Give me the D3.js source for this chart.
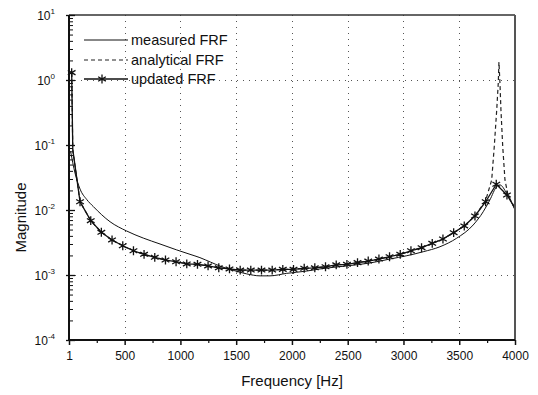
<!DOCTYPE html>
<html><head><meta charset="utf-8">
<script src="https://cdn.jsdelivr.net/npm/d3@7"></script>
<style>
html,body{margin:0;padding:0;background:#fff;}
svg{display:block;}
text{font-family:"Liberation Sans",Arial,sans-serif;fill:#111;}
</style></head>
<body>
<svg id="chart" width="538" height="395"></svg>
<script>
// ---- data ----
const xTickValues = [1, 500, 1000, 1500, 2000, 2500, 3000, 3500, 4000];
const xMinorTicks = [250, 750, 1250, 1750, 2250, 2750, 3250, 3750];
const yTickExponents = [1, 0, -1, -2, -3, -4];
const yGridValues = [1, 0.001];
const xGridValues = [500, 1000, 1500, 2000, 2500, 3000, 3500];

const measuredFreq = [15, 55, 100, 160, 219, 369, 518, 667, 817, 967, 1086, 1175, 1270, 1355, 1474, 1595, 1714, 1803, 1953, 2132, 2251, 2490, 2699, 2878, 3030, 3177, 3327, 3476, 3625, 3715, 3775, 3835, 3865, 3925, 4000];
const measuredMag = [0.08, 0.037, 0.021, 0.0145, 0.0113, 0.0066, 0.00475, 0.0037, 0.0030, 0.00243, 0.00208, 0.00185, 0.00158, 0.00137, 0.00118, 0.00104, 0.00097, 0.00097, 0.00106, 0.00115, 0.00124, 0.00138, 0.00153, 0.00176, 0.00198, 0.00228, 0.00272, 0.00367, 0.00588, 0.0094, 0.0143, 0.0228, 0.0243, 0.0181, 0.0100];

const updatedFreq = [25, 35, 100, 196, 291, 387, 483, 579, 674, 770, 866, 961, 1057, 1153, 1248, 1344, 1440, 1536, 1631, 1727, 1823, 1918, 2014, 2110, 2205, 2301, 2397, 2493, 2588, 2684, 2780, 2875, 2971, 3067, 3162, 3258, 3354, 3450, 3545, 3641, 3737, 3832, 3928, 4000];
const updatedMag = [1.3, 0.085, 0.0134, 0.00685, 0.00454, 0.00346, 0.00282, 0.00236, 0.00208, 0.00187, 0.00170, 0.00160, 0.00148, 0.00146, 0.00138, 0.00129, 0.00124, 0.00119, 0.00119, 0.00119, 0.00119, 0.00122, 0.00122, 0.00127, 0.00129, 0.00134, 0.00143, 0.00146, 0.00155, 0.00164, 0.00176, 0.00191, 0.00208, 0.00236, 0.00263, 0.00307, 0.00358, 0.00448, 0.00568, 0.00809, 0.0134, 0.0249, 0.0170, 0.0107];
const updatedMarked = [true, false, true, true, true, true, true, true, true, true, true, true, true, true, true, true, true, true, true, true, true, true, true, true, true, true, true, true, true, true, true, true, true, true, true, true, true, true, true, true, true, true, true, false];

const analyticalFreq = [25, 35, 100, 196, 291, 387, 483, 579, 674, 770, 866, 961, 1057, 1153, 1248, 1344, 1440, 1536, 1631, 1727, 1823, 1918, 2014, 2110, 2205, 2301, 2397, 2493, 2588, 2684, 2780, 2875, 2971, 3067, 3162, 3258, 3354, 3450, 3545, 3641, 3737, 3791, 3814, 3836, 3850, 3856, 3865, 3874, 3890, 3910, 3937, 4000];
const analyticalMag = [1.3, 0.085, 0.0134, 0.00685, 0.00454, 0.00346, 0.00282, 0.00236, 0.00208, 0.00187, 0.00170, 0.00160, 0.00148, 0.00146, 0.00138, 0.00129, 0.00124, 0.00119, 0.00119, 0.00119, 0.00119, 0.00122, 0.00122, 0.00127, 0.00129, 0.00134, 0.00143, 0.00146, 0.00155, 0.00164, 0.00176, 0.00191, 0.00208, 0.00236, 0.00263, 0.00307, 0.00358, 0.00448, 0.00568, 0.00809, 0.0140, 0.029, 0.094, 0.345, 0.90, 1.89, 0.90, 0.345, 0.094, 0.029, 0.017, 0.0105];

const legendLabels = ["measured FRF", "analytical FRF", "updated FRF"];
const xTitle = "Frequency [Hz]";
const yTitle = "Magnitude";

// ---- layout ----
const L = 69, R = 515, T = 15, B = 340;
const svg = d3.select("#chart");
svg.append("rect").attr("width", 538).attr("height", 395).attr("fill", "#fff");

const x = d3.scaleLinear().domain([1, 4000]).range([L, R]);
const y = d3.scaleLog().domain([1e-4, 10]).range([B, T]);

// grid
const grid = svg.append("g").attr("stroke", "#555").attr("stroke-width", 1).attr("stroke-dasharray", "1,5");
grid.selectAll("line.gx").data(xGridValues).join("line")
  .attr("x1", d => Math.round(x(d)) + 0.5).attr("x2", d => Math.round(x(d)) + 0.5)
  .attr("y1", T).attr("y2", B);
grid.selectAll("line.gy").data(yGridValues).join("line")
  .attr("y1", d => Math.round(y(d)) + 0.5).attr("y2", d => Math.round(y(d)) + 0.5)
  .attr("x1", L).attr("x2", R);

// series
const zip = (fs, ms) => fs.map((f, i) => [f, ms[i]]);
svg.append("clipPath").attr("id", "clip").append("rect")
  .attr("x", L).attr("y", T).attr("width", R - L).attr("height", B - T);
const plot = svg.append("g").attr("clip-path", "url(#clip)");

plot.append("path").datum(zip(measuredFreq, measuredMag))
  .attr("d", d3.line().x(d => x(d[0])).y(d => y(d[1])).curve(d3.curveMonotoneX))
  .attr("fill", "none").attr("stroke", "#111").attr("stroke-width", 1);
plot.append("path").datum(zip(analyticalFreq, analyticalMag))
  .attr("d", d3.line().x(d => x(d[0])).y(d => y(d[1]))).attr("fill", "none").attr("stroke", "#222")
  .attr("stroke-width", 1.2).attr("stroke-dasharray", "4,3");
plot.append("path").datum(zip(updatedFreq, updatedMag))
  .attr("d", d3.line().x(d => x(d[0])).y(d => y(d[1]))).attr("fill", "none").attr("stroke", "#111").attr("stroke-width", 1.3);

const star = d3.symbol().type(d3.symbolAsterisk).size(55);
svg.append("g").selectAll("path").data(zip(updatedFreq, updatedMag).filter((d, i) => updatedMarked[i])).join("path")
  .attr("transform", d => `translate(${x(d[0])},${y(d[1])})`)
  .attr("d", star).attr("fill", "none").attr("stroke", "#111").attr("stroke-width", 1.3);

// axes frame
svg.append("line").attr("x1", L).attr("x2", R).attr("y1", T).attr("y2", T).attr("stroke", "#333").attr("stroke-width", 1.5);
svg.append("line").attr("x1", R).attr("x2", R).attr("y1", T).attr("y2", B).attr("stroke", "#555").attr("stroke-width", 2);

// x axis
const xAxis = svg.append("g").attr("transform", `translate(0,${B})`)
  .call(d3.axisBottom(x).tickValues(xTickValues).tickSize(5).tickPadding(6).tickFormat(d3.format("d")));
xAxis.select(".domain").attr("stroke", "#111").attr("stroke-width", 2).attr("d", `M${L},0H${R}`);
xAxis.selectAll(".tick line").attr("stroke", "#111").attr("stroke-width", 1.5);
xAxis.selectAll(".tick text").attr("font-size", 12).attr("font-family", "Liberation Sans, Arial, sans-serif").attr("fill", "#111");
svg.append("g").attr("transform", `translate(0,${B})`)
  .call(d3.axisBottom(x).tickValues(xMinorTicks).tickSize(3).tickFormat(""))
  .call(g => g.select(".domain").remove())
  .selectAll(".tick line").attr("stroke", "#111").attr("stroke-width", 1.2);

// y axis
const yMajor = yTickExponents.map(e => Math.pow(10, e));
const yMinor = [];
for (let e = -4; e < 1; e++) for (let k = 2; k <= 9; k++) yMinor.push(k * Math.pow(10, e));
const yAxis = svg.append("g").attr("transform", `translate(${L},0)`)
  .call(d3.axisRight(y).tickValues(yMajor).tickSize(6).tickFormat(""));
yAxis.select(".domain").attr("stroke", "#111").attr("stroke-width", 2).attr("d", `M0,${T}V${B}`);
yAxis.selectAll(".tick line").attr("stroke", "#111").attr("stroke-width", 1.3).attr("x1", -3);
svg.append("g").attr("transform", `translate(${L},0)`)
  .call(d3.axisRight(y).tickValues(yMinor).tickSize(4).tickFormat(""))
  .call(g => g.select(".domain").remove())
  .selectAll(".tick line").attr("stroke", "#111").attr("stroke-width", 1);

const yl = svg.append("g").selectAll("text").data(yTickExponents).join("text")
  .attr("x", 55).attr("y", e => y(Math.pow(10, e)) + 4.5)
  .attr("text-anchor", "end").attr("font-size", 12);
yl.append("tspan").text("10");
yl.append("tspan").attr("dy", -6).attr("font-size", 8).text(e => e);

// titles
svg.append("text").attr("x", (L + R) / 2).attr("y", 386).attr("text-anchor", "middle")
  .attr("font-size", 15).text(xTitle);
svg.append("text").attr("transform", `translate(26,${(T + B) / 2 + 40}) rotate(-90)`).attr("text-anchor", "middle")
  .attr("font-size", 15).text(yTitle);

// legend
const lg = svg.append("g");
const rowsY = [40, 60, 79];
const lx1 = 84, lx2 = 128;
lg.append("line").attr("x1", lx1).attr("x2", lx2).attr("y1", rowsY[0]).attr("y2", rowsY[0]).attr("stroke", "#111").attr("stroke-width", 1);
lg.append("line").attr("x1", lx1).attr("x2", lx2).attr("y1", rowsY[1]).attr("y2", rowsY[1]).attr("stroke", "#222").attr("stroke-width", 1.2).attr("stroke-dasharray", "4,3");
lg.append("line").attr("x1", lx1).attr("x2", lx2).attr("y1", rowsY[2]).attr("y2", rowsY[2]).attr("stroke", "#111").attr("stroke-width", 1.3);
lg.append("path").attr("transform", `translate(${(lx1 + lx2) / 2 - 4},${rowsY[2]})`).attr("d", star).attr("fill", "none").attr("stroke", "#111").attr("stroke-width", 1.3);
lg.selectAll("text").data(legendLabels).join("text")
  .attr("x", 131).attr("y", (d, i) => rowsY[i] + 5).attr("font-size", 14.5).text(d => d);
</script>
</body></html>
